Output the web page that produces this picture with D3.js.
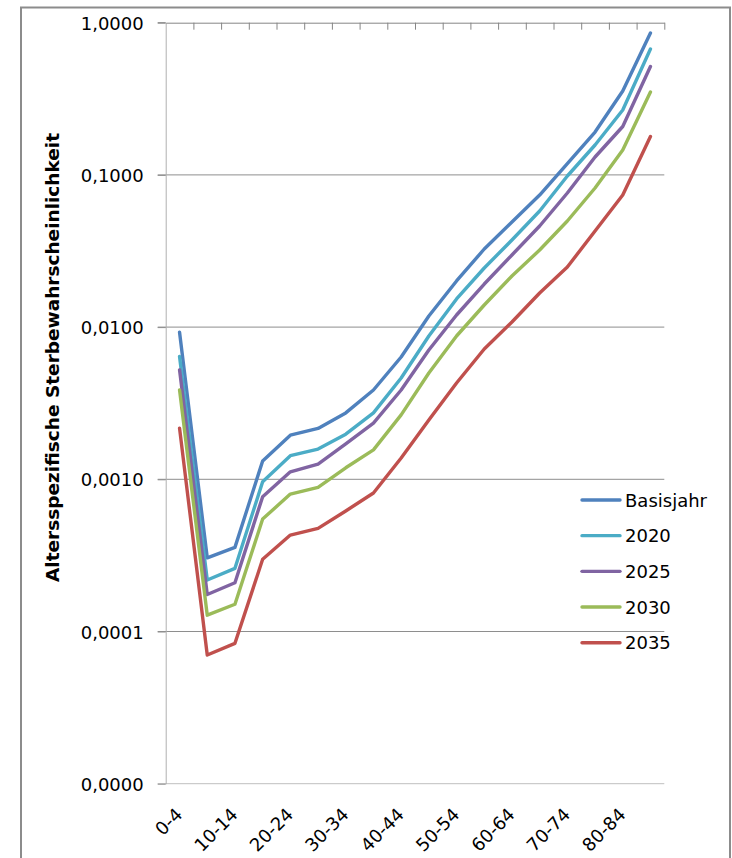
<!DOCTYPE html>
<html>
<head>
<meta charset="utf-8">
<script src="https://cdn.jsdelivr.net/npm/d3@7"></script>
<style>
html,body{margin:0;padding:0;background:#fff;}
svg{display:block;}
</style>
</head>
<body>
<svg id="chart" width="732" height="858"></svg>
<script>
// ---- data ----
const categories = ["0-4","5-9","10-14","15-19","20-24","25-29","30-34","35-39","40-44","45-49","50-54","55-59","60-64","65-69","70-74","75-79","80-84","85-89"];
const shownLabels = ["0-4","10-14","20-24","30-34","40-44","50-54","60-64","70-74","80-84"];
const seriesNames = ["Basisjahr","2020","2025","2030","2035"];
const basisjahr = [0.00926,0.000305,0.000357,0.00132,0.00195,0.00216,0.00273,0.00386,0.00636,0.01183,0.02009,0.03259,0.04903,0.07377,0.1188,0.1913,0.3557,0.8556];
const v2020 = [0.00641,0.000218,0.000260,0.000964,0.00143,0.00158,0.00198,0.00273,0.00463,0.00874,0.01530,0.02445,0.03735,0.05791,0.09835,0.1572,0.2670,0.6719];
const v2025 = [0.00524,0.000175,0.000209,0.000769,0.00112,0.00126,0.00171,0.00234,0.00386,0.00707,0.01201,0.01919,0.02976,0.04616,0.07604,0.1311,0.2080,0.5158];
const v2030 = [0.00387,0.000128,0.000151,0.000548,0.00080,0.000885,0.00119,0.00156,0.00265,0.00499,0.00874,0.01397,0.02166,0.03210,0.04980,0.08201,0.1458,0.3505];
const v2035 = [0.00217,0.0000701,0.0000836,0.000298,0.00043,0.000476,0.000619,0.000813,0.00138,0.00245,0.00429,0.00718,0.01080,0.01675,0.02482,0.04280,0.07377,0.1788];
const seriesValues = [basisjahr, v2020, v2025, v2030, v2035];
const colors = ["#4F81BD","#4BACC6","#8064A2","#9BBB59","#C0504D"];
const yTicks = [1, 0.1, 0.01, 0.001, 0.0001, 0.00001];
const yTitle = "Altersspezifische Sterbewahrscheinlichkeit";

// ---- layout ----
const svg = d3.select("#chart");
const plotL = 165.7, plotR = 664.3, plotT = 22.7, plotB = 783.7;

svg.append("rect").attr("x",21).attr("y",7.5).attr("width",709).attr("height",900)
  .attr("fill","#fff").attr("stroke","#8c8c8c").attr("stroke-width",2);

const x = d3.scaleBand().domain(categories).range([plotL, plotR]);
const xIdx = d3.scaleLinear().domain([0, categories.length]).range([plotL, plotR]);
const y = d3.scaleLog().domain([0.00001, 1]).range([plotB, plotT]);

const de = d3.formatLocale({decimal: ",", thousands: ".", grouping: [3], currency: ["", " €"]});
const fmt = de.format(".4f");

// gridlines
svg.append("g").selectAll("line").data(yTicks.slice(1)).join("line")
  .attr("x1", plotL - 8).attr("x2", plotR)
  .attr("y1", d => y(d)).attr("y2", d => y(d))
  .attr("stroke", d => d === 0.00001 ? "#bfbfbf" : "#8e8e8e").attr("stroke-width", 1);

// y axis
const yAxis = svg.append("g").attr("transform", `translate(${plotL},0)`)
  .call(d3.axisLeft(y).tickValues(yTicks).tickFormat(fmt).tickSize(8).tickPadding(14).tickSizeOuter(0));
yAxis.select(".domain").attr("stroke", "#b0b0b0");
yAxis.selectAll(".tick line").attr("stroke", "#8e8e8e");
yAxis.selectAll(".tick text").attr("font-family", "DejaVu Sans").attr("font-size", "18px")
  .attr("fill", "#000").attr("dy", null).attr("dominant-baseline", "central");

// top category axis (ticks at category boundaries, pointing down)
const xAxis = svg.append("g").attr("transform", `translate(0,${plotT})`)
  .call(d3.axisBottom(xIdx).tickValues(d3.range(1, categories.length + 1)).tickFormat("").tickSize(7).tickSizeOuter(0));
xAxis.select(".domain").attr("stroke", "#868686");
xAxis.selectAll(".tick line").attr("stroke", "#868686");
svg.append("line").attr("x1", plotL - 8).attr("x2", plotL).attr("y1", plotT).attr("y2", plotT).attr("stroke", "#868686");

// x labels at bottom, rotated
const lbl = svg.append("g");
lbl.selectAll("text").data(shownLabels).join("text")
  .attr("transform", d => `translate(${x(d) + x.bandwidth() / 2 + 4},${plotB + 32}) rotate(-45)`)
  .attr("text-anchor", "end")
  .attr("font-family", "DejaVu Sans").attr("font-size", "18px").attr("fill", "#000")
  .text(d => d);

// y title
svg.append("text")
  .attr("transform", `translate(59,${(132 + 583) / 2}) rotate(-90)`)
  .attr("text-anchor", "middle")
  .attr("font-family", "DejaVu Sans").attr("font-weight", "bold").attr("font-size", "18.5px")
  .attr("fill", "#000").text(yTitle);

// lines
const line = d3.line().x((d, i) => x(categories[i]) + x.bandwidth() / 2).y(d => y(d));
svg.append("g").selectAll("path").data(seriesValues).join("path")
  .attr("d", d => line(d)).attr("fill", "none")
  .attr("stroke", (d, i) => colors[i]).attr("stroke-width", 3.4)
  .attr("stroke-linejoin", "round").attr("stroke-linecap", "round");

// legend
const legY = d3.scalePoint().domain(seriesNames).range([500, 642.7]);
const leg = svg.append("g");
const items = leg.selectAll("g").data(seriesNames).join("g")
  .attr("transform", d => `translate(0,${legY(d)})`);
items.append("line").attr("x1", 582).attr("x2", 620).attr("y1", 0).attr("y2", 0)
  .attr("stroke", (d, i) => colors[i]).attr("stroke-width", 3.4).attr("stroke-linecap", "round");
items.append("text").attr("x", 625).attr("y", 0).attr("dominant-baseline", "central")
  .attr("font-family", "DejaVu Sans").attr("font-size", "18px").attr("fill", "#000").text(d => d);
</script>
</body>
</html>
